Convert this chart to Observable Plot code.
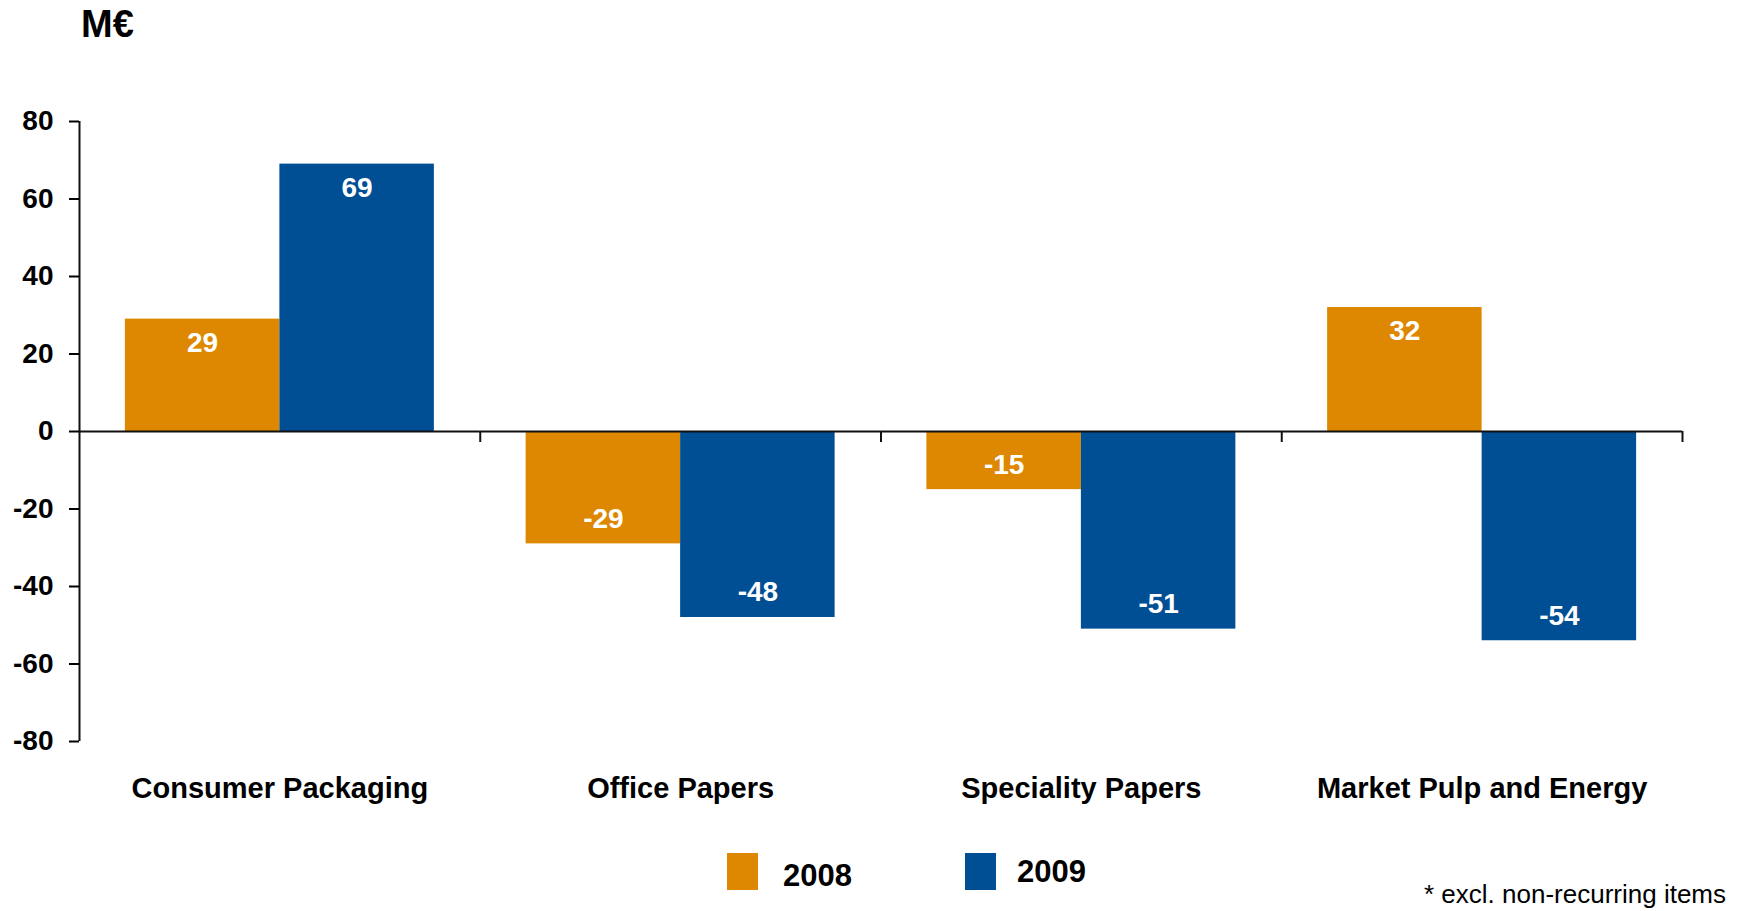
<!DOCTYPE html>
<html><head><meta charset="utf-8">
<script src="https://cdn.jsdelivr.net/npm/d3@7"></script>
<script src="https://cdn.jsdelivr.net/npm/@observablehq/plot@0.6"></script>
<style>
body{margin:0;background:#fff;font-family:"Liberation Sans",Arial,sans-serif;}
#wrap{position:relative;width:1749px;height:911px;overflow:hidden;background:#fff}
#wrap svg{position:absolute;left:0;top:0}
.abs{position:absolute;line-height:1;white-space:nowrap;color:#000}
.sw{position:absolute;width:31px;height:37px}
</style></head><body><div id="wrap"></div>
<script>
const categories = ["Consumer Packaging", "Office Papers", "Speciality Papers", "Market Pulp and Energy"];
const years = ["2008", "2009"];
const values2008 = [29, -29, -15, 32];
const values2009 = [69, -48, -51, -54];
const yTicks = [-80, -60, -40, -20, 0, 20, 40, 60, 80];
const colors = ["#DE8700", "#004E93"];
const unitLabel = "M€";
const footnote = "* excl. non-recurring items";

const series = [values2008, values2009];
const rows = categories.flatMap((c, i) => years.map((y, j) => ({category: c, year: y, value: series[j][i]})));

const W = 1749, H = 911, ML = 79, MR = 67, MT = 121, MB = 170;
const pad = 0.297;
const facetW = (W - ML - MR) / categories.length;
const step = facetW / (years.length + 2 * pad);
const edge = step * (0.5 + pad);
const font = '"Liberation Sans", Arial, sans-serif';

const chart = Plot.plot({
  width: W, height: H,
  marginLeft: ML, marginRight: MR, marginTop: MT, marginBottom: MB,
  style: {fontFamily: font, color: "#000", background: "transparent"},
  fx: {domain: categories, padding: 0, round: false, label: null},
  x: {domain: years, paddingInner: 0, paddingOuter: pad, round: false, axis: null},
  y: {domain: [-80, 80], label: null},
  color: {domain: years, range: colors},
  marks: [
    Plot.barY(rows, {fx: "category", x: "year", y: "value", fill: "year"}),
    Plot.ruleY([0], {stroke: "#111", strokeWidth: 2}),
    Plot.ruleX(categories, {fx: d => d, x: () => years[1], y1: 0, y2: 0, insetBottom: -11, dx: edge, stroke: "#111", strokeWidth: 2}),
    Plot.ruleX([categories[0]], {fx: d => d, x: () => years[0], y1: -80, y2: 80, dx: -edge, stroke: "#111", strokeWidth: 2}),
    Plot.axisY({ticks: yTicks, tickFormat: d => String(d), tickSize: 10, tickPadding: 16, fontSize: 28, fontWeight: "bold", label: null, strokeWidth: 2}),
    Plot.axisFx({anchor: "bottom", tickSize: 0, tickPadding: 36, fontSize: 29, fontWeight: "bold", label: null}),
    Plot.text(rows.filter(d => d.value >= 0), {fx: "category", x: "year", y: "value", text: d => String(d.value), dy: 24, fill: "white", fontSize: 28, fontWeight: "bold"}),
    Plot.text(rows.filter(d => d.value < 0), {fx: "category", x: "year", y: "value", text: d => String(d.value), dy: -25, fill: "white", fontSize: 28, fontWeight: "bold"})
  ]
});

const wrap = document.getElementById("wrap");
wrap.appendChild(chart);

function addText(txt, left, baseline, size, weight) {
  const d = document.createElement("div");
  d.className = "abs";
  d.textContent = txt;
  d.style.left = left + "px";
  d.style.top = (baseline - 0.8465 * size) + "px";
  d.style.fontSize = size + "px";
  d.style.fontWeight = weight;
  wrap.appendChild(d);
}
function addSwatch(color, left, top) {
  const s = document.createElement("div");
  s.className = "sw";
  s.style.left = left + "px";
  s.style.top = top + "px";
  s.style.background = color;
  wrap.appendChild(s);
}
addText(unitLabel, 81, 37, 38, "bold");
addSwatch(colors[0], 727, 853);
addText(years[0], 783, 886, 31, "bold");
addSwatch(colors[1], 965, 853);
addText(years[1], 1017, 882, 31, "bold");
addText(footnote, 1424, 903, 26, "normal");
</script></body></html>
